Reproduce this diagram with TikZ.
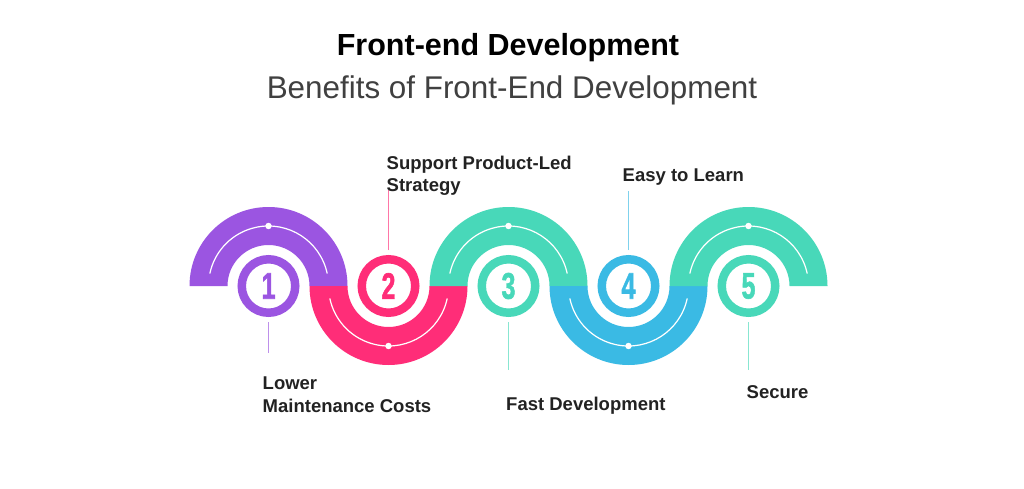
\documentclass[tikz,border=0pt]{standalone}
\usepackage{fontspec}
\setmainfont{Liberation Sans}
\newfontfamily\numfont{Liberation Sans Bold}[FakeBold=1.6]
\definecolor{cpurple}{RGB}{155,85,225}
\definecolor{cpink}{RGB}{255,45,120}
\definecolor{cteal}{RGB}{72,216,185}
\definecolor{cblue}{RGB}{58,186,228}
\definecolor{ctext}{RGB}{34,34,34}
\definecolor{csub}{RGB}{64,64,64}
\begin{document}
\begin{tikzpicture}[x=1pt,y=1pt,
  guide/.style={draw=white, line width=1.2pt},
  ring/.style={circle, draw=#1, text=#1, line width=8.5pt, fill=white,
    minimum size=53.5pt, inner sep=0pt,
    font=\numfont\fontsize{37}{37}\selectfont},
  conn/.style={draw=#1!65!white, line width=1.4pt, shorten <=5pt},
  lbl/.style={inner sep=0pt, text=ctext, align=left,
    font=\bfseries\fontsize{18.5}{22.5}\selectfont}]
\fill[white] (0,0) rectangle (1024,488);
\useasboundingbox (0,0) rectangle (1024,488);

% title
\node[anchor=base, inner sep=0pt, text=black,
  font=\bfseries\fontsize{30.5}{36}\selectfont] (title) at (508,432.3) {Front-end Development};
\node[anchor=base, inner sep=0pt, text=csub,
  font=\fontsize{31.4}{36}\selectfont] (sub) at (512,389) {Benefits of Front-End Development};

% bands
\foreach \cx/\col/\dir in {268.5/cpurple/1, 388.5/cpink/-1, 508.5/cteal/1, 628.5/cblue/-1, 748.5/cteal/1}{
  \ifnum\dir=1
    \fill[\col] ({\cx-79},202) arc[start angle=180,end angle=0,radius=79]
      -- ({\cx+41},202) arc[start angle=0,end angle=180,radius=41] -- cycle;
    \draw[guide] ({\cx+60*cos(12)},{202+60*sin(12)}) arc[start angle=12,end angle=168,radius=60];
    \fill[white] (\cx,262) circle (3.2);
  \else
    \fill[\col] ({\cx-79},202) arc[start angle=180,end angle=360,radius=79]
      -- ({\cx+41},202) arc[start angle=360,end angle=180,radius=41] -- cycle;
    \draw[guide] ({\cx+60*cos(12)},{202-60*sin(12)}) arc[start angle=-12,end angle=-168,radius=60];
    \fill[white] (\cx,142) circle (3.2);
  \fi
}

% number rings
\node[ring=cpurple] (n1) at (268.5,202) {\scalebox{0.68}[1]{1}};
\node[ring=cpink]   (n2) at (388.5,202) {\scalebox{0.68}[1]{2}};
\node[ring=cteal]   (n3) at (508.5,202) {\scalebox{0.68}[1]{3}};
\node[ring=cblue]   (n4) at (628.5,202) {\scalebox{0.68}[1]{4}};
\node[ring=cteal]   (n5) at (748.5,202) {\scalebox{0.68}[1]{5}};

% connector ends
\coordinate (e1) at (268.5,135);
\coordinate (e2) at (388.5,298);
\coordinate (e3) at (508.5,118);
\coordinate (e4) at (628.5,297);
\coordinate (e5) at (748.5,118);
\draw[conn=cpurple] (n1.south) -- (e1);
\draw[conn=cpink]   (n2.north) -- (e2);
\draw[conn=cteal]   (n3.south) -- (e3);
\draw[conn=cblue]   (n4.north) -- (e4);
\draw[conn=cteal]   (n5.south) -- (e5);

% labels (base anchor = baseline of last line)
\node[lbl, anchor=base west] (t1) at (262.5,76) {Lower\\Maintenance Costs};
\node[lbl, anchor=base west] (t2) at (386.5,296.5) {Support Product-Led\\Strategy};
\node[lbl, anchor=base west] (t3) at (506,78) {Fast Development};
\node[lbl, anchor=base west] (t4) at (622.5,306.3) {Easy to Learn};
\node[lbl, anchor=base west] (t5) at (746.5,89.7) {Secure};
\end{tikzpicture}
\end{document}
